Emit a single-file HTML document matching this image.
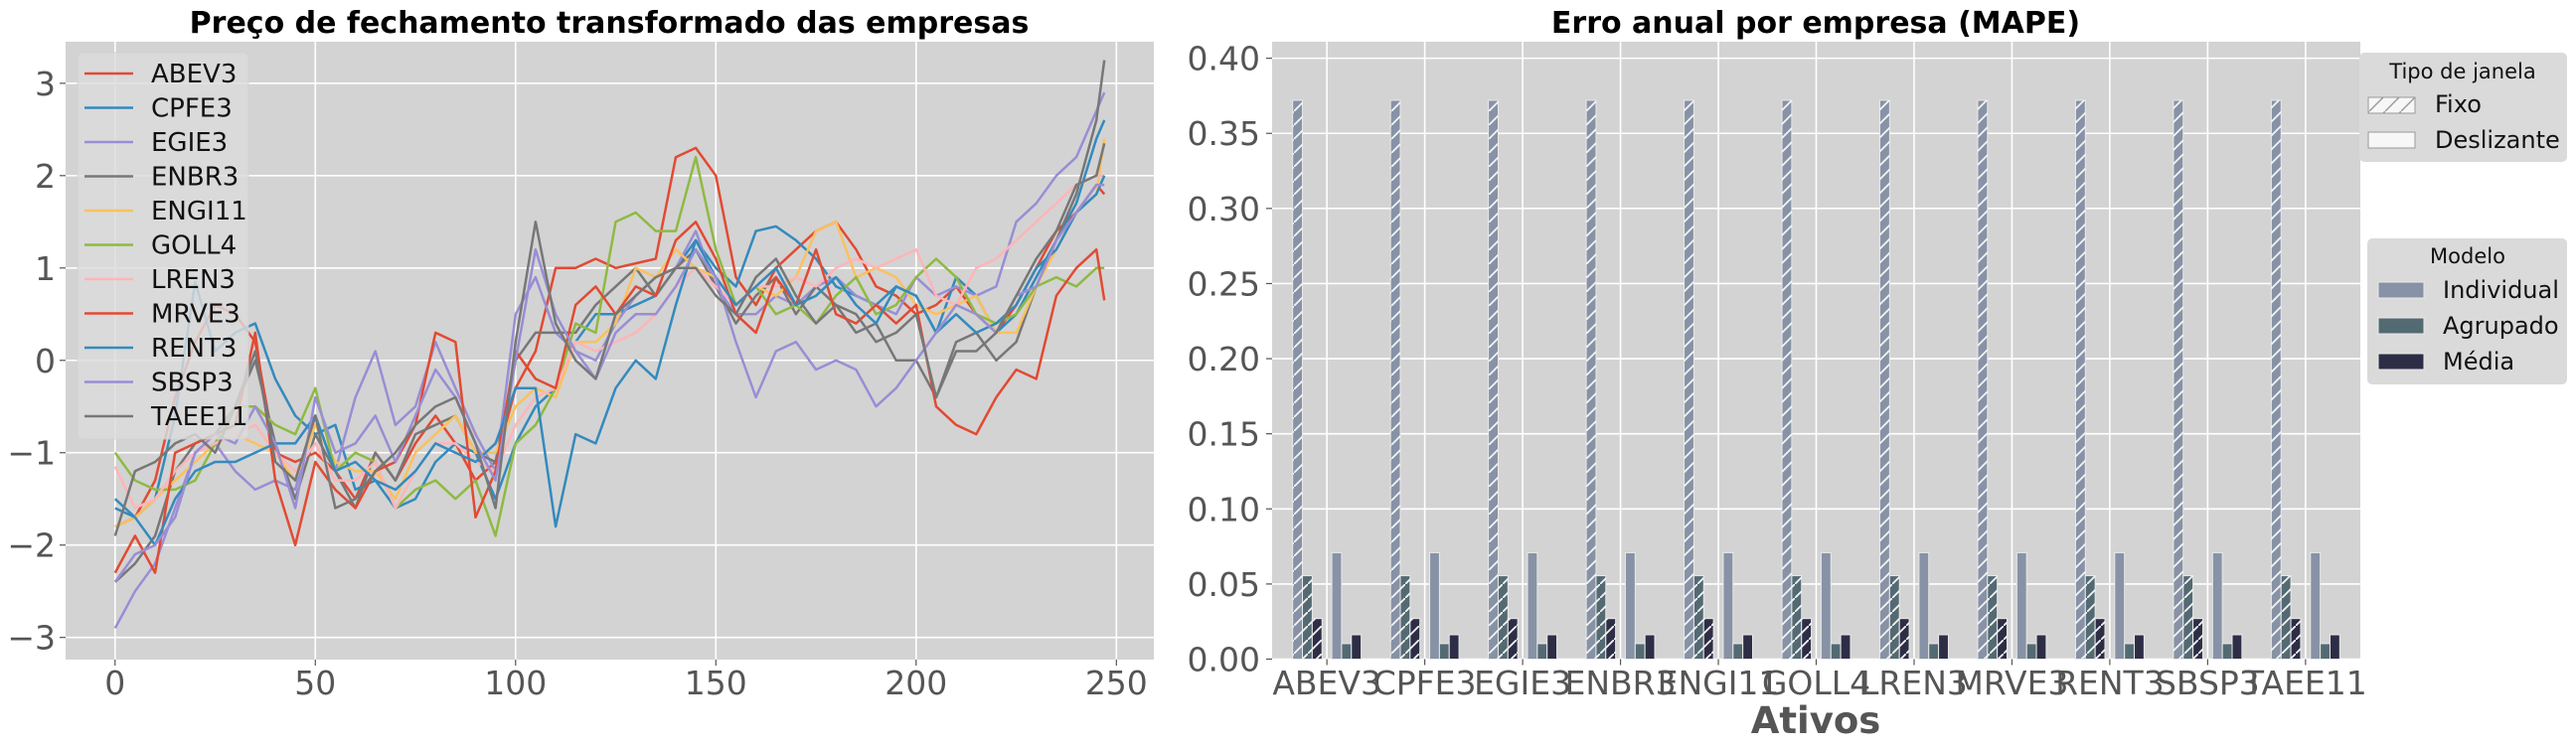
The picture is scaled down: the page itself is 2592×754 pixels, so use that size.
<!DOCTYPE html>
<html><head><meta charset="utf-8"><style>
html,body{margin:0;padding:0;background:#fff;}
svg{display:block;font-family:"DejaVu Sans","Liberation Sans",sans-serif;}
</style></head><body>
<svg id="fig" width="2592" height="754" viewBox="0 0 2592 754" xmlns="http://www.w3.org/2000/svg">
<defs>
<pattern id="hatch" patternUnits="userSpaceOnUse" width="14" height="14">
<line x1="-2" y1="16" x2="16" y2="-2" stroke="#f4f4f4" stroke-width="1.8"/>
</pattern>
<pattern id="hatchLeg" patternUnits="userSpaceOnUse" width="16" height="16">
<line x1="0" y1="16" x2="16" y2="0" stroke="#999" stroke-width="1.4"/>
</pattern>
</defs>
<g id="left"></g>
<g id="right"></g>
</svg>
<script>
const xSteps = [0,5,10,15,20,25,30,35,40,45,50,55,60,65,70,75,80,85,90,95,100,105,110,115,120,125,130,135,140,145,150,155,160,165,170,175,180,185,190,195,200,205,210,215,220,225,230,235,240,245,247];
const seriesNames = ["ABEV3","CPFE3","EGIE3","ENBR3","ENGI11","GOLL4","LREN3","MRVE3","RENT3","SBSP3","TAEE11"];
const seriesColors = ["#E24A33","#348ABD","#988ED5","#777777","#FBC15E","#8EBA42","#FFB5B8","#E24A33","#348ABD","#988ED5","#777777"];
const ABEV3 = [-1.8,-1.7,-1.3,-0.4,0.2,0.6,0.5,0.2,-1.0,-1.1,-1.0,-1.2,-1.5,-1.0,-1.3,-0.9,-0.6,-0.9,-1.3,-1.1,-0.3,0.1,1.0,1.0,1.1,1.0,1.05,1.1,2.2,2.3,2.0,0.9,0.6,1.0,1.2,1.4,1.5,1.2,0.8,0.7,0.5,0.6,0.8,0.5,0.3,0.6,1.0,1.4,1.6,1.9,1.8];
const CPFE3 = [-1.5,-1.7,-1.5,-0.6,0.85,0.1,0.3,0.4,-0.2,-0.6,-0.8,-0.7,-1.4,-1.3,-1.6,-1.5,-1.1,-0.9,-1.0,-1.5,-0.9,-0.5,-0.3,0.2,0.5,0.5,0.6,0.7,1.0,1.3,1.0,0.8,1.4,1.45,1.3,1.1,0.8,0.7,0.6,0.8,0.7,0.3,0.9,0.7,0.3,0.5,0.9,1.3,1.7,2.4,2.6];
const EGIE3 = [-2.9,-2.5,-2.2,-1.6,-1.0,-0.9,-1.2,-1.4,-1.3,-1.4,-0.6,-1.2,-0.4,0.1,-0.7,-0.5,0.2,-0.3,-0.8,-1.2,0.5,0.9,0.3,0.1,0.0,0.4,0.7,0.9,1.0,1.4,0.8,0.5,0.5,0.7,0.6,0.8,0.9,0.7,0.6,0.5,0.9,0.7,0.8,0.7,0.8,1.5,1.7,2.0,2.2,2.7,2.9];
const ENBR3 = [-2.4,-2.2,-1.9,-1.2,-0.9,-0.8,-0.5,0.0,-0.9,-1.5,-0.8,-1.2,-1.6,-1.0,-1.3,-0.8,-0.7,-0.6,-1.0,-1.1,0.0,0.3,0.3,0.3,0.6,0.8,1.0,0.7,1.0,1.2,0.8,0.4,0.7,0.9,0.5,0.8,0.6,0.3,0.4,0.0,0.0,-0.4,0.2,0.3,0.0,0.2,0.8,1.3,1.8,2.6,3.25];
const ENGI11 = [-1.8,-1.7,-1.5,-1.3,-1.1,-0.9,-0.8,-0.9,-1.0,-1.3,-0.7,-1.1,-1.2,-1.2,-1.5,-1.0,-0.8,-0.6,-1.0,-1.0,-0.5,-0.3,-0.4,0.2,0.2,0.4,1.0,0.9,1.2,1.0,0.9,0.6,0.8,0.7,0.9,1.4,1.5,0.9,1.0,0.9,0.6,0.5,0.6,0.7,0.3,0.3,0.8,1.2,1.6,1.8,2.4];
const GOLL4 = [-1.0,-1.3,-1.4,-1.4,-1.3,-0.9,-0.5,-0.5,-0.7,-0.8,-0.3,-1.2,-1.0,-1.1,-1.6,-1.4,-1.3,-1.5,-1.3,-1.9,-0.9,-0.7,-0.3,0.4,0.3,1.5,1.6,1.4,1.4,2.2,1.2,0.6,0.8,0.5,0.6,0.4,0.7,0.9,0.5,0.6,0.9,1.1,0.9,0.5,0.4,0.5,0.8,0.9,0.8,1.0,1.0];
const LREN3 = [-1.15,-1.6,-1.5,-1.2,-1.0,-0.9,-0.8,-0.7,-1.0,-1.2,-0.9,-1.3,-1.3,-1.1,-1.6,-1.2,-0.9,-0.9,-1.1,-1.2,-0.7,-0.4,-0.3,0.2,0.1,0.2,0.3,0.5,0.8,1.0,0.8,0.6,0.8,0.8,0.9,0.8,1.0,1.1,1.0,1.1,1.2,0.7,0.6,1.0,1.1,1.3,1.5,1.7,1.9,2.0,2.0];
const MRVE3 = [-2.3,-1.9,-2.3,-1.0,-0.9,-0.8,-0.7,0.3,-1.3,-2.0,-1.1,-1.4,-1.6,-1.2,-1.1,-0.7,0.3,0.2,-1.7,-1.2,0.1,-0.2,-0.3,0.6,0.8,0.5,0.8,0.7,1.3,1.5,1.1,0.5,0.3,0.9,0.6,1.2,0.5,0.4,0.6,0.4,0.6,-0.5,-0.7,-0.8,-0.4,-0.1,-0.2,0.7,1.0,1.2,0.65];
const RENT3 = [-1.6,-1.7,-2.0,-1.5,-1.2,-1.1,-1.1,-1.0,-0.9,-0.9,-0.6,-1.2,-1.1,-1.3,-1.4,-1.2,-0.9,-1.0,-1.1,-0.9,-0.3,-0.3,-1.8,-0.8,-0.9,-0.3,0.0,-0.2,0.6,1.3,0.9,0.6,0.8,1.0,0.6,0.7,0.9,0.6,0.4,0.8,0.7,0.3,0.5,0.3,0.4,0.6,1.0,1.2,1.6,1.8,2.0];
const SBSP3 = [-2.4,-2.1,-2.0,-1.7,-1.0,-0.8,-0.9,-0.5,-0.9,-1.6,-0.4,-1.0,-0.9,-0.6,-1.1,-0.6,-0.1,-0.4,-0.9,-1.3,0.0,1.2,0.5,0.1,-0.2,0.3,0.5,0.5,0.8,1.2,0.9,0.2,-0.4,0.1,0.2,-0.1,0.0,-0.1,-0.5,-0.3,0.0,0.3,0.6,0.5,0.3,0.7,0.8,1.3,1.6,1.9,1.9];
const TAEE11 = [-1.9,-1.2,-1.1,-0.9,-0.8,-1.0,-0.5,0.1,-1.1,-1.3,-0.6,-1.6,-1.5,-1.2,-1.0,-0.7,-0.5,-0.4,-0.9,-1.6,0.2,1.5,0.4,0.0,-0.2,0.5,0.7,0.9,1.0,1.0,0.7,0.5,0.9,1.1,0.7,0.4,0.6,0.5,0.2,0.3,0.5,-0.4,0.1,0.1,0.3,0.7,1.1,1.4,1.9,2.0,2.35];
const seriesValues = [ABEV3,CPFE3,EGIE3,ENBR3,ENGI11,GOLL4,LREN3,MRVE3,RENT3,SBSP3,TAEE11];
const leftXTicks = [0,50,100,150,200,250];
const leftYTicks = [-3,-2,-1,0,1,2,3];

const barCategories = ["ABEV3","CPFE3","EGIE3","ENBR3","ENGI11","GOLL4","LREN3","MRVE3","RENT3","SBSP3","TAEE11"];
const fixoIndividual = [0.372,0.372,0.372,0.372,0.372,0.372,0.372,0.372,0.372,0.372,0.372];
const fixoAgrupado = [0.0555,0.0555,0.0555,0.0555,0.0555,0.0555,0.0555,0.0555,0.0555,0.0555,0.0555];
const fixoMedia = [0.027,0.027,0.027,0.027,0.027,0.027,0.027,0.027,0.027,0.027,0.027];
const deslIndividual = [0.0708,0.0708,0.0708,0.0708,0.0708,0.0708,0.0708,0.0708,0.0708,0.0708,0.0708];
const deslAgrupado = [0.0103,0.0103,0.0103,0.0103,0.0103,0.0103,0.0103,0.0103,0.0103,0.0103,0.0103];
const deslMedia = [0.0162,0.0162,0.0162,0.0162,0.0162,0.0162,0.0162,0.0162,0.0162,0.0162,0.0162];
const rightYTicks = [0,0.05,0.10,0.15,0.20,0.25,0.30,0.35,0.40];
const rightYTickLabels = ["0.00","0.05","0.10","0.15","0.20","0.25","0.30","0.35","0.40"];

const NS = "http://www.w3.org/2000/svg";
function mk(tag, attrs, parent){const e=document.createElementNS(NS,tag);for(const k in attrs)e.setAttribute(k,attrs[k]);parent.appendChild(e);return e;}
const TF = 33;

// ---------- LEFT CHART ----------
const L = document.getElementById('left');
const lx0=66, lx1=1161, ly0=42, ly1=664;
const xMin=-12.35, xMax=259.35, yMin=-3.24, yMax=3.45;
const sx = v => lx0 + (v - xMin)/(xMax - xMin)*(lx1-lx0);
const sy = v => ly1 - (v - yMin)/(yMax - yMin)*(ly1-ly0);
const lbg = mk('rect',{x:lx0,y:ly0,width:lx1-lx0,height:ly1-ly0,fill:'#d3d3d3'},L);


leftYTicks.forEach(t=>{
  const g=mk('line',{x1:lx0,x2:lx1,y1:sy(t),y2:sy(t),stroke:'#fff','stroke-width':1.6},L);
  
  
  mk('line',{x1:lx0-6,x2:lx0,y1:sy(t),y2:sy(t),stroke:'#555','stroke-width':1.2},L);
  const tx=mk('text',{x:lx0-10,y:sy(t)+12,'text-anchor':'end','font-size':TF,fill:'#555'},L);
  tx.textContent = t<0 ? '\u2212'+Math.abs(t) : String(t);
  
  
});
leftXTicks.forEach(t=>{
  const g=mk('line',{x1:sx(t),x2:sx(t),y1:ly0,y2:ly1,stroke:'#fff','stroke-width':1.6},L);
  
  
  mk('line',{x1:sx(t),x2:sx(t),y1:ly1,y2:ly1+6,stroke:'#555','stroke-width':1.2},L);
  const tx=mk('text',{x:sx(t),y:699,'text-anchor':'middle','font-size':TF,fill:'#555'},L);
  tx.textContent=String(t);
  
  
});
seriesValues.forEach((vals,i)=>{
  const d = vals.map((v,j)=>(j?'L':'M')+sx(xSteps[j]).toFixed(1)+','+sy(v).toFixed(1)).join('');
  const p=mk('path',{d:d,fill:'none',stroke:seriesColors[i],'stroke-width':2.5,'stroke-linejoin':'round'},L);
  
  
});
// legend
const lg = mk('g',{},L);


mk('rect',{x:78,y:53,width:172,height:389,rx:5,fill:'#dcdcdc','fill-opacity':0.82,stroke:'#d0d0d0','stroke-opacity':0.8},lg);
seriesNames.forEach((n,i)=>{
  const y=74+i*34.5;
  mk('line',{x1:85,x2:134,y1:y,y2:y,stroke:seriesColors[i],'stroke-width':2.5},lg);
  const t=mk('text',{x:152,y:y+9,'font-size':26,fill:'#111'},lg);
  t.textContent=n;
  
  
});
const lt=mk('text',{x:613,y:33,'text-anchor':'middle','font-size':30,'font-weight':'bold',fill:'#000'},L);
lt.textContent='Preço de fechamento transformado das empresas';



// ---------- RIGHT CHART ----------
const R = document.getElementById('right');
const rx0=1280, rx1=2375, ry0=42, ry1=663.5;
const catMin=-0.56, catMax=10.56, bMax=0.411;
const cx = i => rx0 + (i - catMin)/(catMax-catMin)*(rx1-rx0);
const by = v => ry1 - v/bMax*(ry1-ry0);
const rbg=mk('rect',{x:rx0,y:ry0,width:rx1-rx0,height:ry1-ry0,fill:'#d3d3d3'},R);


rightYTicks.forEach((t,k)=>{
  const g=mk('line',{x1:rx0,x2:rx1,y1:by(t),y2:by(t),stroke:'#fff','stroke-width':1.6},R);
  
  
  mk('line',{x1:rx0-6,x2:rx0,y1:by(t),y2:by(t),stroke:'#555','stroke-width':1.2},R);
  const tx=mk('text',{x:1268,y:by(t)+12,'text-anchor':'end','font-size':TF,fill:'#555'},R);
  tx.textContent=rightYTickLabels[k];
  
  
});
barCategories.forEach((c,i)=>{
  const g=mk('line',{x1:cx(i),x2:cx(i),y1:ry0,y2:ry1,stroke:'#fff','stroke-width':1.6},R);
  
  
});
const barWidth = 0.1;
const groups = [
  {vals:fixoIndividual, off:-0.35, color:'#8792a6', hatch:true, name:'fixo-individual'},
  {vals:fixoAgrupado, off:-0.25, color:'#546a73', hatch:true, name:'fixo-agrupado'},
  {vals:fixoMedia, off:-0.15, color:'#2d2e46', hatch:true, name:'fixo-media'},
  {vals:deslIndividual, off:0.05, color:'#8792a6', hatch:false, name:'deslizante-individual'},
  {vals:deslAgrupado, off:0.15, color:'#546a73', hatch:false, name:'deslizante-agrupado'},
  {vals:deslMedia, off:0.25, color:'#2d2e46', hatch:false, name:'deslizante-media'}
];
groups.forEach(gr=>{
  gr.vals.forEach((v,i)=>{
    const x=cx(i+gr.off), w=cx(i+gr.off+barWidth)-x, y=by(v), h=ry1-y;
    const b=mk('rect',{x:x,y:y,width:w,height:h,fill:gr.color,stroke:'#e8e8e8','stroke-width':1},R);
    
    
    if(gr.hatch){mk('rect',{x:x,y:y,width:w,height:h,fill:'url(#hatch)'},R);}
  });
});
barCategories.forEach((c,i)=>{
  mk('line',{x1:cx(i),x2:cx(i),y1:ry1,y2:ry1+6,stroke:'#555','stroke-width':1.2},R);
  const tx=mk('text',{x:cx(i),y:699,'text-anchor':'middle','font-size':TF,fill:'#555'},R);
  tx.textContent=c;
  
  
});
const rt=mk('text',{x:1827,y:33,'text-anchor':'middle','font-size':30,'font-weight':'bold',fill:'#000'},R);
rt.textContent='Erro anual por empresa (MAPE)';


const xl=mk('text',{x:1827,y:738,'text-anchor':'middle','font-size':37,'font-weight':'bold',fill:'#555'},R);
xl.textContent='Ativos';



// legend 1: Tipo de janela
const lg1=mk('g',{},R);


mk('rect',{x:2374,y:53,width:209,height:110,rx:5,fill:'#dadada'},lg1);
let t1=mk('text',{x:2478,y:79,'text-anchor':'middle','font-size':21,fill:'#111'},lg1); t1.textContent='Tipo de janela';
mk('rect',{x:2383,y:98,width:47,height:16,fill:'#f7f7f7',stroke:'#999','stroke-width':1},lg1);
mk('rect',{x:2383,y:98,width:47,height:16,fill:'url(#hatchLeg)'},lg1);
let t2=mk('text',{x:2450,y:113,'font-size':24,fill:'#111'},lg1); t2.textContent='Fixo';


mk('rect',{x:2383,y:133,width:47,height:16,fill:'#f7f7f7',stroke:'#999','stroke-width':1},lg1);
let t3=mk('text',{x:2450,y:149,'font-size':24,fill:'#111'},lg1); t3.textContent='Deslizante';



// legend 2: Modelo
const lg2=mk('g',{},R);


mk('rect',{x:2382,y:240,width:201,height:147,rx:5,fill:'#dadada'},lg2);
let m0=mk('text',{x:2483,y:265,'text-anchor':'middle','font-size':21,fill:'#111'},lg2); m0.textContent='Modelo';
const modelNames=['Individual','Agrupado','Média'], modelColors=['#8792a6','#546a73','#2d2e46'];
modelNames.forEach((n,k)=>{
  const y=284+k*36;
  mk('rect',{x:2393,y:y,width:46,height:16,fill:modelColors[k],stroke:'#e8e8e8','stroke-width':1},lg2);
  const t=mk('text',{x:2458,y:y+16,'font-size':24,fill:'#111'},lg2); t.textContent=n;
  
  
});
</script>
</body></html>
